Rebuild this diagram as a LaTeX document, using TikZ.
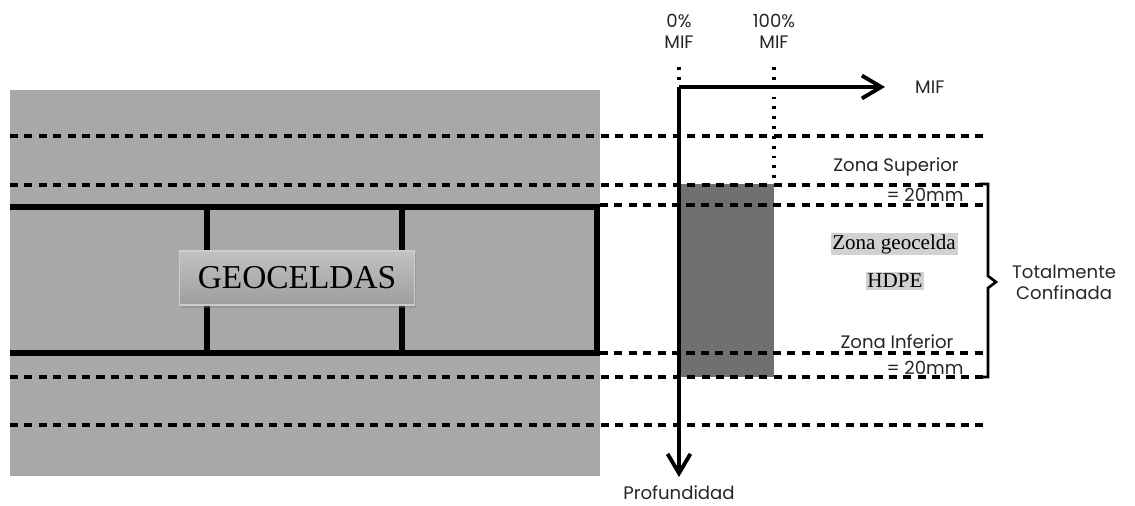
\documentclass[tikz,border=0pt]{standalone}
\usepackage{fontspec}
\setmainfont{Liberation Serif}
\newfontfamily\gothic{Poppins}
\usepackage{xcolor}
\usepackage{tikz}
\usetikzlibrary{positioning, shadows}
\usetikzlibrary{arrows.meta}
\tikzset{>={Straight Barb[length=11pt,width=13pt]}}
\definecolor{layergray}{RGB}{166,168,170}
\definecolor{zonegray}{RGB}{112,112,112}

\begin{document}
\begin{tikzpicture}[x=0.02cm, y=-0.02cm, dashline/.style={line width=2pt, dash pattern=on 4.6pt off 3.6pt}, dotline/.style={line width=2pt, dash pattern=on 1.6pt off 4pt}, cellline/.style={line width=3.3pt}, axisline/.style={line width=2.2pt}, label/.style={font=\gothic\fontsize{10.3}{12}\selectfont, text=black!85, inner sep=1pt, align=center}, tag/.style={font=\fontsize{12}{14}\selectfont, fill=black!18, inner sep=1pt}, geobox/.style={draw=white!80!black, line width=0.6pt, top color=black!24, bottom color=black!38, drop shadow={opacity=0.4, shadow xshift=1pt, shadow yshift=-1.5pt}, minimum width=4.7cm, minimum height=1.08cm, font=\fontsize{19}{22}\selectfont}]

    \useasboundingbox (0,0) rectangle (1135,506);

    %Soil layer and geocells
    \fill[layergray] (10,90) rectangle (600,476);
    \fill[zonegray] (679,184) rectangle (774,377);
    \draw[cellline] (10,207) -- (597,207) -- (597,353) -- (10,353);
    \draw[cellline] (207,207) -- (207,353);
    \draw[cellline] (402,207) -- (402,353);

    %Lines
    \foreach \y in {136,185,377,425}
        \draw[dashline] (10,\y) -- (985,\y);
    \foreach \y in {205,353}
        \draw[dashline] (600,\y) -- (985,\y);
    \draw[dotline] (679,67) -- (679,87);
    \draw[dotline] (774,67) -- (774,184);

    %Axes
    \coordinate (origin) at (679,87);
    \coordinate (mifend) at (885,87);
    \coordinate (depthend) at (679,477);
    \draw[axisline, ->] (origin) -- (mifend);
    \draw[axisline, ->] (origin) -- (depthend);

    %Bracket
    \coordinate (bracktop) at (988,184);
    \coordinate (brackbot) at (988,377);
    \coordinate (bracktip) at (996,282);
    \draw[line width=1.5pt] (979,184) -- (bracktop) -- (988,276) -- (bracktip) -- (988,288) -- (brackbot) -- (979,377);

    %Nodes
    \node[geobox](geoceldas) at (297,278){GEOCELDAS};
    \node[label](mif)[right=16pt of mifend]{MIF};
    \node[label](depth)[below=4pt of depthend]{Profundidad};
    \node[label](zero) at (679,31){0\%\\MIF};
    \node[label](hundred) at (774,31){100\%\\MIF};
    \node[label](upper) at (896,167){Zona Superior};
    \node[label](upperval) at (925,195){= 20mm};
    \node[tag](geozone) at (894,244){Zona geocelda};
    \node[tag](hdpe) at (895,281){HDPE};
    \node[label](lower) at (897,342){Zona Inferior};
    \node[label](lowerval) at (925,368){= 20mm};
    \node[label](confined)[right=8pt of bracktip]{Totalmente\\Confinada};

\end{tikzpicture}
\end{document}
